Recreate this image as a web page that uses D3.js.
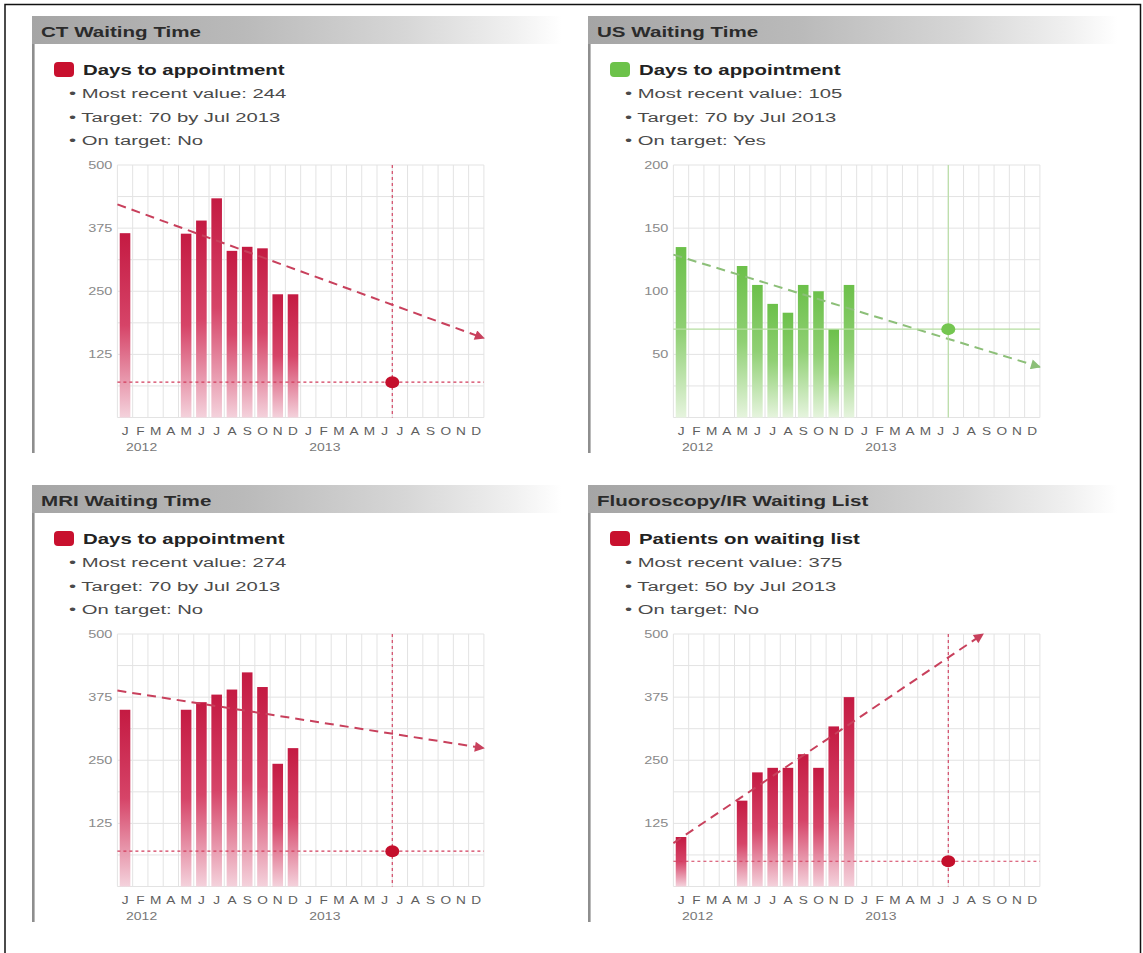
<!DOCTYPE html>
<html>
<head>
<meta charset="utf-8">
<script src="https://cdn.jsdelivr.net/npm/d3@7"></script>
<style>
  body { margin: 0; background: #fff; }
  svg { display: block; }
</style>
</head>
<body>
<svg id="chart" width="1143" height="953"></svg>
<script>
// ---- data ---------------------------------------------------------------
const monthLabels = ["J","F","M","A","M","J","J","A","S","O","N","D"];
const yearLabels = ["2012", "2013"];

// monthly values Jan..Dec 2012 (null = no reading)
const ctDays         = [365, null, null, null, 364, 390, 434, 330, 338, 335, 244, 244];
const usDays         = [135, null, null, null, 120, 105,  90,  83, 105, 100,  70, 105];
const mriDays        = [350, null, null, null, 350, 365, 380, 390, 424, 395, 243, 274];
const fluoroPatients = [ 98, null, null, null, 170, 226, 235, 235, 262, 235, 317, 375];

// projected trend: value at Jan 2012 and at the end of Dec 2013
const ctTrend     = [422, 157];
const usTrend     = [129, 40];
const mriTrend    = [388, 274];
const fluoroTrend = [86, 576];

const ticks500 = [125, 250, 375, 500];
const ticks200 = [50, 100, 150, 200];

const titles   = ["CT Waiting Time", "US Waiting Time", "MRI Waiting Time", "Fluoroscopy/IR Waiting List"];
const measures = ["Days to appointment", "Days to appointment", "Days to appointment", "Patients on waiting list"];
const targets  = [70, 70, 70, 50];
const targetMonth = ["Jul", 2013];
const onTarget = ["No", "Yes", "No", "No"];

// ---- panel definitions ----------------------------------------------------
const panels = [
  { title: titles[0], measure: measures[0], values: ctDays,         trend: ctTrend,     ticks: ticks500, yMax: 500, target: targets[0], onTarget: onTarget[0], theme: "red",   x0: 32,  y0: 16 },
  { title: titles[1], measure: measures[1], values: usDays,         trend: usTrend,     ticks: ticks200, yMax: 200, target: targets[1], onTarget: onTarget[1], theme: "green", x0: 588, y0: 16 },
  { title: titles[2], measure: measures[2], values: mriDays,        trend: mriTrend,    ticks: ticks500, yMax: 500, target: targets[2], onTarget: onTarget[2], theme: "red",   x0: 32,  y0: 485 },
  { title: titles[3], measure: measures[3], values: fluoroPatients, trend: fluoroTrend, ticks: ticks500, yMax: 500, target: targets[3], onTarget: onTarget[3], theme: "red",   x0: 588, y0: 485 }
];

const themes = {
  red:   { key: "#c8102e", barTop: "#c41a42", barMid: "#d64468", barBottom: "#f4d2dc",
           trend: "#c8405c", targetLine: "#d23c5c", targetDash: "3,3", dot: "#c40f2c" },
  green: { key: "#6cc24a", barTop: "#6cc04a", barMid: "#90d074", barBottom: "#e6f4de",
           trend: "#8cbf78", targetLine: "#b5dea0", targetDash: null, dot: "#74c650" }
};

const FONT = "'Liberation Sans', Arial, Helvetica, sans-serif";
const monthNames = ["Jan","Feb","Mar","Apr","May","Jun","Jul","Aug","Sep","Oct","Nov","Dec"];
const targetIndex = (targetMonth[1] - 2012) * 12 + monthNames.indexOf(targetMonth[0]);

const svg = d3.select("#chart");
const defs = svg.append("defs");

// page frame
svg.append("path")
  .attr("d", "M5,953 V4.5 H1140.5 V953")
  .attr("fill", "none").attr("stroke", "#111").attr("stroke-width", 1.5);

// header fade
const hg = defs.append("linearGradient").attr("id", "headerGrad");
[[0, "#a5a5a5"], [0.4, "#bababa"], [0.7, "#d6d6d6"], [0.9, "#efefef"], [1, "#ffffff"]]
  .forEach(([o, c]) => hg.append("stop").attr("offset", o).attr("stop-color", c));

// bar gradients and arrowheads per theme
Object.entries(themes).forEach(([name, t]) => {
  const g = defs.append("linearGradient").attr("id", "bar-" + name)
    .attr("x1", 0).attr("y1", 0).attr("x2", 0).attr("y2", 1);
  g.append("stop").attr("offset", 0).attr("stop-color", t.barTop);
  g.append("stop").attr("offset", 0.5).attr("stop-color", t.barMid);
  g.append("stop").attr("offset", 1).attr("stop-color", t.barBottom);

  defs.append("marker").attr("id", "arrow-" + name)
    .attr("viewBox", "0 0 10 10").attr("refX", 9).attr("refY", 5)
    .attr("markerUnits", "userSpaceOnUse")
    .attr("markerWidth", 12).attr("markerHeight", 10)
    .attr("orient", "auto")
    .append("path").attr("d", "M0,0 L10,5 L0,10 Z").attr("fill", t.trend);
});

// text helper: the typeface is drawn slightly widened
function text(g, x, y, str, opt) {
  return g.append("text")
    .attr("transform", `translate(${x},${y}) scale(${opt.sx || 1},1)`)
    .attr("font-family", FONT)
    .attr("font-size", opt.size)
    .attr("font-weight", opt.weight || "normal")
    .attr("fill", opt.fill || "#333")
    .attr("text-anchor", opt.anchor || "start")
    .text(str);
}

const PLOT_DX = 85.4, PLOT_W = 366.5, PLOT_TOP = 149, PLOT_H = 252.5;

panels.forEach(p => {
  const t = themes[p.theme];
  const g = svg.append("g").attr("transform", `translate(${p.x0},${p.y0})`);

  // header band + left rule
  g.append("rect").attr("x", 0).attr("y", 0).attr("width", 530).attr("height", 28)
    .attr("fill", "url(#headerGrad)");
  g.append("rect").attr("x", 0).attr("y", 28).attr("width", 2.6).attr("height", 409)
    .attr("fill", "#8e8e8e");
  text(g, 9, 20.5, p.title, { size: 14.5, weight: "bold", fill: "#2b2b2b", sx: 1.42 });

  // legend
  g.append("rect").attr("x", 22).attr("y", 46).attr("width", 20).attr("height", 15)
    .attr("rx", 4).attr("fill", t.key);
  text(g, 51, 58.5, p.measure, { size: 15, weight: "bold", fill: "#222", sx: 1.36 });
  const lastVal = p.values[p.values.length - 1];
  const bullets = [
    "Most recent value: " + lastVal,
    "Target: " + p.target + " by " + targetMonth[0] + " " + targetMonth[1],
    "On target: " + p.onTarget
  ];
  bullets.forEach((b, i) => text(g, 37, 82 + i * 23.5, "\u2022 " + b,
    { size: 13.5, fill: "#4a4a4a", sx: 1.5 }));

  // plot
  const plot = g.append("g").attr("transform", `translate(${PLOT_DX},${PLOT_TOP})`);
  const x = d3.scaleLinear().domain([0, 24]).range([0, PLOT_W]);
  const y = d3.scaleLinear().domain([0, p.yMax]).range([PLOT_H, 0]);

  // grid
  plot.append("g").selectAll("line").data(d3.range(0, 25)).join("line")
    .attr("x1", d => x(d)).attr("x2", d => x(d))
    .attr("y1", 0).attr("y2", PLOT_H)
    .attr("stroke", "#e3e3e3").attr("stroke-width", 1);
  plot.append("g").selectAll("line").data(d3.range(0, 9).map(k => k * p.yMax / 8)).join("line")
    .attr("x1", 0).attr("x2", PLOT_W)
    .attr("y1", d => y(d)).attr("y2", d => y(d))
    .attr("stroke", "#e3e3e3").attr("stroke-width", 1);

  // y tick labels
  p.ticks.forEach(v => text(plot, -5, y(v) + 3.5, v, { size: 10, fill: "#8a8a8a", anchor: "end", sx: 1.45 }));

  // month and year labels
  d3.range(24).forEach(i => text(plot, x(i + 0.5), PLOT_H + 17.5, monthLabels[i % 12],
    { size: 10.5, fill: "#5e5e5e", anchor: "middle", sx: 1.3 }));
  yearLabels.forEach((yr, i) => text(plot, x(i * 12 + 0.5) + 1, PLOT_H + 33.5, yr,
    { size: 10, fill: "#777", sx: 1.4 }));

  // bars
  const bars = p.values.map((v, i) => ({ i, v })).filter(d => d.v != null);
  const bw = 10.6;
  plot.append("g").selectAll("rect").data(bars).join("rect")
    .attr("x", d => x(d.i + 0.5) - bw / 2)
    .attr("width", bw)
    .attr("y", d => y(d.v))
    .attr("height", d => PLOT_H - y(d.v))
    .attr("fill", `url(#bar-${p.theme})`);

  // trend projection, stopped at the top of the scale
  const [v0, v1] = p.trend;
  let xEnd = 24, vEnd = v1;
  if (v1 > p.yMax) { xEnd = 24 * (p.yMax - v0) / (v1 - v0); vEnd = p.yMax; }
  plot.append("line")
    .attr("x1", x(0)).attr("y1", y(v0))
    .attr("x2", x(xEnd)).attr("y2", y(vEnd))
    .attr("stroke", t.trend).attr("stroke-width", 2)
    .attr("stroke-dasharray", "9,6")
    .attr("marker-end", `url(#arrow-${p.theme})`);

  // target cross-hair and point
  plot.append("line")
    .attr("x1", 0).attr("x2", PLOT_W).attr("y1", y(p.target)).attr("y2", y(p.target))
    .attr("stroke", t.targetLine).attr("stroke-width", 1.1)
    .attr("stroke-dasharray", t.targetDash);
  plot.append("line")
    .attr("x1", x(targetIndex)).attr("x2", x(targetIndex)).attr("y1", 0).attr("y2", PLOT_H)
    .attr("stroke", t.targetLine).attr("stroke-width", 1.1)
    .attr("stroke-dasharray", t.targetDash);
  plot.append("ellipse")
    .attr("cx", x(targetIndex)).attr("cy", y(p.target))
    .attr("rx", 7).attr("ry", 6).attr("fill", t.dot);
});
</script>
</body>
</html>
